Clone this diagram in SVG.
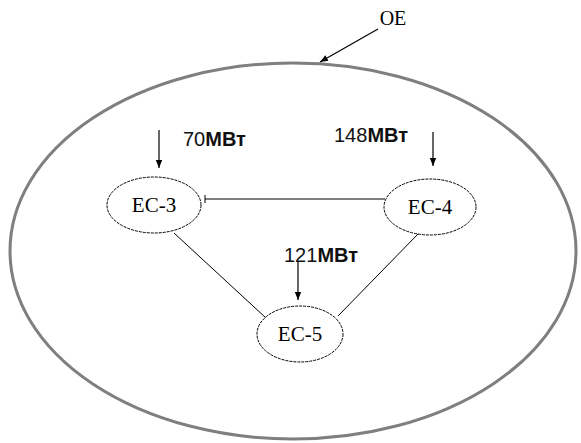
<svg xmlns="http://www.w3.org/2000/svg" width="581" height="443" viewBox="0 0 581 443">
<defs>
<marker id="ah" viewBox="0 0 10 10" refX="10" refY="5" markerWidth="8" markerHeight="8" markerUnits="userSpaceOnUse" orient="auto">
<path d="M0,1 L10,5 L0,9 z" fill="#000"/>
</marker>
</defs>
<style>
.outer{fill:none;stroke:#7f7f7f;stroke-width:3}
.node{fill:#fff;stroke:#000;stroke-width:1;stroke-dasharray:3 1}
.lbl{font-family:"Liberation Serif",serif;font-size:21px;fill:#000;text-anchor:middle}
.pw{font-family:"Liberation Sans",sans-serif;font-size:20px;fill:#111}
.pw tspan{font-weight:bold}
.edge{stroke:#000;stroke-width:1;fill:none}
.arr{stroke:#000;stroke-width:1.2;fill:none;marker-end:url(#ah)}
</style>
<rect width="581" height="443" fill="#fff"/>
<g id="OE">
<ellipse class="outer" cx="293" cy="251" rx="283" ry="188"/>
<text x="393" y="25" style="font-family:'Liberation Serif',serif;font-size:20px;text-anchor:middle">OE</text>
</g>
<g id="connectors">
<line class="edge" x1="205" y1="195" x2="205" y2="203"/>
<line class="edge" x1="205" y1="199" x2="385" y2="199"/>
<line class="edge" x1="174" y1="233" x2="266" y2="318"/>
<line class="edge" x1="419" y1="233" x2="338" y2="316"/>
<line class="arr" x1="378" y1="29" x2="320" y2="62"/>
<line class="arr" x1="159" y1="130" x2="159" y2="168"/>
<line class="arr" x1="433" y1="132" x2="433" y2="166"/>
<line class="arr" x1="298" y1="262" x2="298" y2="300"/>
</g>
<g id="EC-3">
<ellipse class="node" cx="154" cy="205" rx="47" ry="28"/>
<text class="lbl" x="154" y="212">EC-3</text>
</g>
<g id="EC-4">
<ellipse class="node" cx="430" cy="207" rx="46" ry="28"/>
<text class="lbl" x="430" y="214">EC-4</text>
</g>
<g id="EC-5">
<ellipse class="node" cx="300" cy="334" rx="43" ry="28"/>
<text class="lbl" x="300" y="341">EC-5</text>
</g>
<g id="labels">
<text class="pw" x="183" y="146">70<tspan>МВт</tspan></text>
<text class="pw" x="334" y="142">148<tspan>МВт</tspan></text>
<text class="pw" x="284" y="262">121<tspan>МВт</tspan></text>
</g>
</svg>
